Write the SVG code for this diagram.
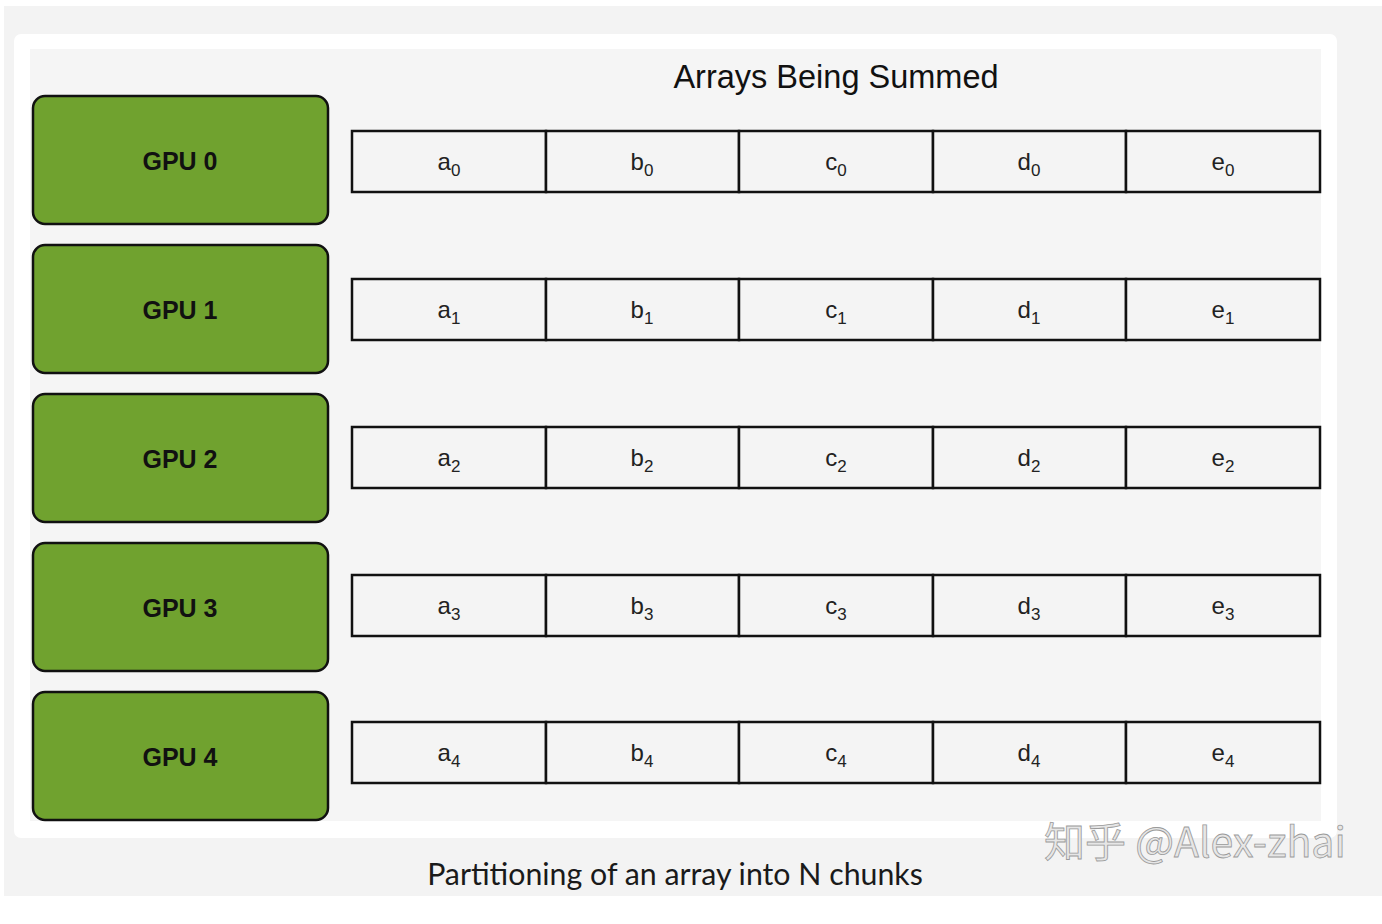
<svg xmlns="http://www.w3.org/2000/svg" width="1382" height="924" viewBox="0 0 1382 924">
<style>
.gpu rect{fill:#70a22f;stroke:#111;stroke-width:2.5}
.gpu text{font-family:"Liberation Sans",Arial,sans-serif;font-weight:bold;font-size:25px;fill:#111;text-anchor:middle}
.cell rect{fill:#f4f4f4;stroke:#111;stroke-width:2.5}
.cell text{font-family:"Liberation Sans",Arial,sans-serif;font-size:24px;fill:#222;text-anchor:middle}
.sub{font-size:17px}
.title{font-family:"Liberation Sans",Arial,sans-serif;font-size:32.5px;fill:#111;text-anchor:middle}
.caption{font-family:Lato,"Liberation Sans",sans-serif;font-size:30.3px;fill:#1a1a1a;text-anchor:middle}
.wm{font-family:"Noto Sans CJK SC","Liberation Sans",sans-serif;font-size:41px;fill:#e6e6e6;stroke:#9a9a9a;stroke-width:0.8}
</style>
<rect width="1382" height="924" fill="#ffffff"/>
<rect x="4" y="6" width="1378" height="890" fill="#f3f3f3"/>
<rect x="14" y="34" width="1323" height="804" rx="7" fill="#ffffff"/>
<rect x="30" y="49" width="1291" height="772" fill="#f5f5f5"/>
<text class="title" x="836" y="88">Arrays Being Summed</text>

<g id="gpu0" class="gpu"><rect x="33" y="96" width="295" height="128" rx="12"/><text x="180" y="170">GPU 0</text></g>
<g id="gpu1" class="gpu"><rect x="33" y="245" width="295" height="128" rx="12"/><text x="180" y="319">GPU 1</text></g>
<g id="gpu2" class="gpu"><rect x="33" y="394" width="295" height="128" rx="12"/><text x="180" y="468">GPU 2</text></g>
<g id="gpu3" class="gpu"><rect x="33" y="543" width="295" height="128" rx="12"/><text x="180" y="617">GPU 3</text></g>
<g id="gpu4" class="gpu"><rect x="33" y="692" width="295" height="128" rx="12"/><text x="180" y="766">GPU 4</text></g>

<g id="array0" class="cell">
<rect x="352" y="131" width="194" height="61"/><rect x="546" y="131" width="193" height="61"/><rect x="739" y="131" width="194" height="61"/><rect x="933" y="131" width="193" height="61"/><rect x="1126" y="131" width="194" height="61"/>
<text x="449" y="170">a<tspan class="sub" dy="6">0</tspan></text>
<text x="642" y="170">b<tspan class="sub" dy="6">0</tspan></text>
<text x="836" y="170">c<tspan class="sub" dy="6">0</tspan></text>
<text x="1029" y="170">d<tspan class="sub" dy="6">0</tspan></text>
<text x="1223" y="170">e<tspan class="sub" dy="6">0</tspan></text>
</g>
<g id="array1" class="cell">
<rect x="352" y="279" width="194" height="61"/><rect x="546" y="279" width="193" height="61"/><rect x="739" y="279" width="194" height="61"/><rect x="933" y="279" width="193" height="61"/><rect x="1126" y="279" width="194" height="61"/>
<text x="449" y="318">a<tspan class="sub" dy="6">1</tspan></text>
<text x="642" y="318">b<tspan class="sub" dy="6">1</tspan></text>
<text x="836" y="318">c<tspan class="sub" dy="6">1</tspan></text>
<text x="1029" y="318">d<tspan class="sub" dy="6">1</tspan></text>
<text x="1223" y="318">e<tspan class="sub" dy="6">1</tspan></text>
</g>
<g id="array2" class="cell">
<rect x="352" y="427" width="194" height="61"/><rect x="546" y="427" width="193" height="61"/><rect x="739" y="427" width="194" height="61"/><rect x="933" y="427" width="193" height="61"/><rect x="1126" y="427" width="194" height="61"/>
<text x="449" y="466">a<tspan class="sub" dy="6">2</tspan></text>
<text x="642" y="466">b<tspan class="sub" dy="6">2</tspan></text>
<text x="836" y="466">c<tspan class="sub" dy="6">2</tspan></text>
<text x="1029" y="466">d<tspan class="sub" dy="6">2</tspan></text>
<text x="1223" y="466">e<tspan class="sub" dy="6">2</tspan></text>
</g>
<g id="array3" class="cell">
<rect x="352" y="575" width="194" height="61"/><rect x="546" y="575" width="193" height="61"/><rect x="739" y="575" width="194" height="61"/><rect x="933" y="575" width="193" height="61"/><rect x="1126" y="575" width="194" height="61"/>
<text x="449" y="614">a<tspan class="sub" dy="6">3</tspan></text>
<text x="642" y="614">b<tspan class="sub" dy="6">3</tspan></text>
<text x="836" y="614">c<tspan class="sub" dy="6">3</tspan></text>
<text x="1029" y="614">d<tspan class="sub" dy="6">3</tspan></text>
<text x="1223" y="614">e<tspan class="sub" dy="6">3</tspan></text>
</g>
<g id="array4" class="cell">
<rect x="352" y="722" width="194" height="61"/><rect x="546" y="722" width="193" height="61"/><rect x="739" y="722" width="194" height="61"/><rect x="933" y="722" width="193" height="61"/><rect x="1126" y="722" width="194" height="61"/>
<text x="449" y="761">a<tspan class="sub" dy="6">4</tspan></text>
<text x="642" y="761">b<tspan class="sub" dy="6">4</tspan></text>
<text x="836" y="761">c<tspan class="sub" dy="6">4</tspan></text>
<text x="1029" y="761">d<tspan class="sub" dy="6">4</tspan></text>
<text x="1223" y="761">e<tspan class="sub" dy="6">4</tspan></text>
</g>
<g id="connectors"></g>

<text class="caption" x="675" y="885">Partitioning of an array into N chunks</text>
<text class="wm" x="1044" y="857">知乎 @Alex-zhai</text>
</svg>
